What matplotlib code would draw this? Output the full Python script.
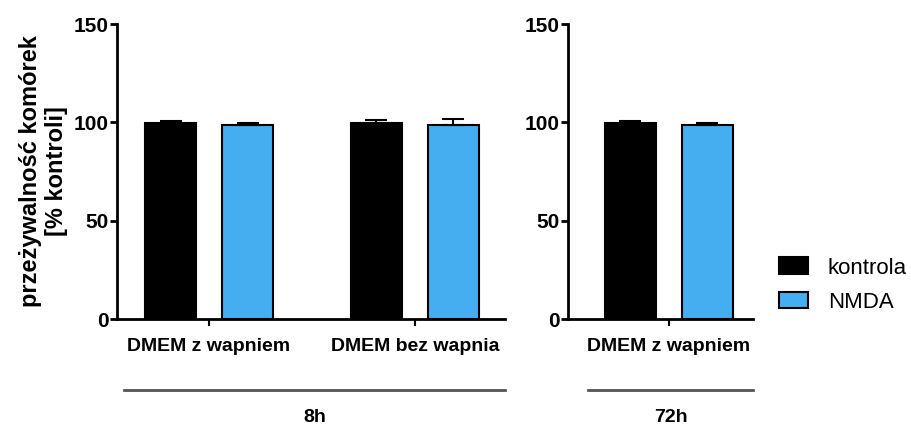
import numpy as np
import matplotlib
matplotlib.use("Agg")
import matplotlib.pyplot as plt
from matplotlib.patches import Patch

plt.rcParams["font.family"] = ["Liberation Sans", "DejaVu Sans"]

# 8h panel: two media, control vs NMDA
groups_8h = ["DMEM z wapniem", "DMEM bez wapnia"]
kontrola_8h = [99.8, 99.6]
kontrola_8h_err = [0.8, 1.6]
nmda_8h = [98.6, 98.6]
nmda_8h_err = [1.0, 2.9]

# 72h panel
groups_72h = ["DMEM z wapniem"]
kontrola_72h = [99.8]
kontrola_72h_err = [0.8]
nmda_72h = [98.5]
nmda_72h_err = [1.3]

BLACK = "#000000"
BLUE = "#45AEF0"
W = 0.248
OFF = 0.187

fig = plt.figure(figsize=(9.12, 4.25), dpi=100)
axL = fig.add_axes([0.1283, 0.2494, 0.4254, 0.6941])
axR = fig.add_axes([0.6228, 0.2494, 0.2029, 0.6941])


def draw(ax, cats, k, ke, n, ne, xlim):
    x = np.arange(len(cats))
    ax.bar(x - OFF, k, W, color=BLACK, edgecolor="black", linewidth=1.5,
           yerr=[np.zeros(len(k)), ke], error_kw=dict(ecolor="black", elinewidth=1.5,
                                                      capsize=8, capthick=1.5))
    ax.bar(x + OFF, n, W, color=BLUE, edgecolor="black", linewidth=1.5,
           yerr=[np.zeros(len(n)), ne], error_kw=dict(ecolor="black", elinewidth=1.5,
                                                      capsize=8, capthick=1.5))
    ax.set_xlim(*xlim)
    ax.set_ylim(0, 150)
    ax.set_yticks([0, 50, 100, 150])
    ax.set_xticks(x)
    ax.set_xticklabels(cats, fontsize=14, fontweight="bold")
    for lab in ax.get_yticklabels():
        lab.set_fontsize(15)
        lab.set_fontweight("bold")
    for s in ("top", "right"):
        ax.spines[s].set_visible(False)
    for s in ("left", "bottom"):
        ax.spines[s].set_linewidth(2)
    ax.tick_params(axis="y", length=5, width=2, pad=1)
    ax.tick_params(axis="x", length=5, width=1.5, pad=9)


draw(axL, groups_8h, kontrola_8h, kontrola_8h_err, nmda_8h, nmda_8h_err, (-0.447, 1.437))
draw(axR, groups_72h, kontrola_72h, kontrola_72h_err, nmda_72h, nmda_72h_err, (-0.49, 0.41))

axL.set_ylabel("przeżywalność komórek\n[% kontroli]", fontsize=17, fontweight="bold",
               labelpad=4, linespacing=1.2)

# time-point brackets below the category labels
for x0, x1, label in [(124, 505, "8h"), (588, 753, "72h")]:
    fig.add_artist(plt.Line2D([x0 / 912, x1 / 912], [1 - 390 / 425] * 2,
                              color="#555555", lw=2, transform=fig.transFigure))
    fig.text((x0 + x1) / 2 / 912, 1 - 417 / 425, label, ha="center", va="center",
             fontsize=14, fontweight="bold")

handles = [Patch(facecolor=BLACK, edgecolor="black", linewidth=1.5, label="kontrola"),
           Patch(facecolor=BLUE, edgecolor="black", linewidth=1.5, label="NMDA")]
fig.legend(handles=handles, loc="center left", bbox_to_anchor=(0.842, 0.329), frameon=False,
           fontsize=16, borderpad=0, handlelength=1.3, handleheight=0.77,
           handletextpad=0.9, labelspacing=0.6)

fig.savefig("out.png", dpi=100)
